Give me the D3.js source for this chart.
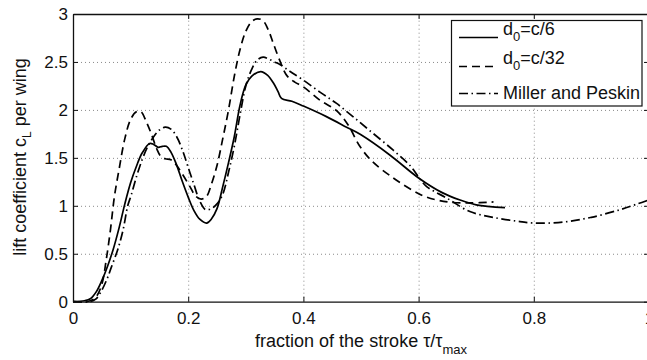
<!DOCTYPE html>
<html><head><meta charset="utf-8">
<script src="https://cdn.jsdelivr.net/npm/d3@7"></script>
<style>
body{margin:0;background:#fff;}
svg{display:block;font-family:"Liberation Sans",Arial,Helvetica,sans-serif;}
</style></head>
<body><svg id="c" width="647" height="360"></svg>
<script>
// ---- data ----
const xTicks = [0, 0.2, 0.4, 0.6, 0.8, 1];
const xTickLabels = ["0", "0.2", "0.4", "0.6", "0.8", "1"];
const yTicks = [0, 0.5, 1, 1.5, 2, 2.5, 3];
const yTickLabels = ["0", "0.5", "1", "1.5", "2", "2.5", "3"];
const seriesNames = ["d0=c/6", "d0=c/32", "Miller and Peskin"];

const xSolid = [0,0.02,0.03,0.04,0.05,0.06,0.07,0.08,0.09,0.10,0.11,0.12,0.133,0.14,0.148,0.155,0.162,0.17,0.179,0.19,0.20,0.21,0.22,0.232,0.24,0.25,0.26,0.27,0.28,0.29,0.30,0.31,0.326,0.338,0.348,0.356,0.362,0.38,0.40,0.44,0.475,0.50,0.55,0.60,0.64,0.672,0.70,0.75];
const ySolid = [0,0.01,0.03,0.1,0.22,0.37,0.55,0.77,1.02,1.24,1.41,1.55,1.65,1.64,1.61,1.62,1.62,1.56,1.44,1.25,1.09,0.95,0.86,0.82,0.86,0.97,1.2,1.45,1.72,2.05,2.26,2.35,2.40,2.36,2.28,2.19,2.12,2.09,2.04,1.93,1.82,1.74,1.53,1.29,1.14,1.06,1.01,0.98];

const xDashed = [0,0.02,0.03,0.04,0.05,0.058,0.065,0.072,0.08,0.09,0.10,0.11,0.118,0.127,0.136,0.145,0.152,0.16,0.17,0.18,0.19,0.203,0.213,0.223,0.232,0.24,0.25,0.26,0.27,0.28,0.29,0.30,0.31,0.32,0.33,0.34,0.348,0.358,0.371,0.385,0.40,0.429,0.458,0.478,0.498,0.52,0.556,0.59,0.614,0.65,0.69,0.73];
const yDashed = [0,0,0.01,0.05,0.18,0.45,0.75,1.1,1.38,1.7,1.9,1.98,1.98,1.88,1.75,1.6,1.52,1.49,1.48,1.42,1.33,1.2,1.1,1.07,1.1,1.22,1.42,1.7,2.0,2.35,2.63,2.82,2.92,2.95,2.93,2.82,2.69,2.53,2.36,2.29,2.24,2.10,1.99,1.84,1.62,1.46,1.29,1.16,1.09,1.04,1.03,1.04];

const xMiller = [0,0.03,0.04,0.05,0.06,0.066,0.078,0.087,0.095,0.101,0.11,0.12,0.13,0.14,0.15,0.16,0.17,0.18,0.19,0.20,0.21,0.22,0.23,0.24,0.25,0.26,0.27,0.28,0.29,0.30,0.31,0.32,0.33,0.34,0.35,0.36,0.377,0.40,0.43,0.457,0.486,0.52,0.556,0.585,0.60,0.614,0.649,0.689,0.729,0.77,0.80,0.85,0.90,0.95,0.98,1.0];
const yMiller = [0,0,0.03,0.12,0.25,0.35,0.55,0.75,1.0,1.11,1.3,1.48,1.62,1.72,1.79,1.82,1.8,1.72,1.58,1.4,1.22,1.05,0.96,0.97,1.02,1.12,1.35,1.62,1.95,2.25,2.42,2.52,2.55,2.53,2.5,2.47,2.4,2.31,2.18,2.07,1.93,1.76,1.58,1.42,1.30,1.2,1.08,0.94,0.88,0.84,0.82,0.83,0.88,0.96,1.02,1.06];

// ---- layout ----
const L = 73, R = 649, T = 14, B = 301.7;
const svg = d3.select("#c");
const x = d3.scaleLinear().domain([0, 1]).range([L, R]);
const y = d3.scaleLinear().domain([0, 3]).range([B, T]);

// grid
svg.append("g").attr("transform", `translate(0,${B})`)
  .call(d3.axisBottom(x).tickValues(xTicks.slice(1, -1)).tickSize(-(B - T)).tickFormat(""))
  .call(g => g.select(".domain").remove())
  .call(g => g.selectAll("line").attr("stroke", "#8a8a8a").attr("stroke-dasharray", "1,3"));
svg.append("g").attr("transform", `translate(${L},0)`)
  .call(d3.axisLeft(y).tickValues(yTicks.slice(1, -1)).tickSize(-(R - L)).tickFormat(""))
  .call(g => g.select(".domain").remove())
  .call(g => g.selectAll("line").attr("stroke", "#8a8a8a").attr("stroke-dasharray", "1,3"));

// series
const styles = [
  {xs: xSolid, ys: ySolid, dash: null},
  {xs: xDashed, ys: yDashed, dash: "8,5"},
  {xs: xMiller, ys: yMiller, dash: "9,3.5,1.5,3.5"}
];
const line = d3.line().x(d => x(d[0])).y(d => y(d[1])).curve(d3.curveCatmullRom.alpha(0.5));
styles.forEach(s => {
  svg.append("path")
    .datum(s.xs.map((v, i) => [v, s.ys[i]]))
    .attr("fill", "none").attr("stroke", "#000").attr("stroke-width", 1.7)
    .attr("stroke-dasharray", s.dash)
    .attr("d", line);
});

// axes
const fontTick = 17;
const axB = svg.append("g").attr("transform", `translate(0,${B})`)
  .call(d3.axisBottom(x).tickValues(xTicks).tickFormat((d, i) => xTickLabels[i]).tickSize(-5).tickSizeOuter(0).tickPadding(10));
const axL = svg.append("g").attr("transform", `translate(${L},0)`)
  .call(d3.axisLeft(y).tickValues(yTicks).tickFormat((d, i) => yTickLabels[i]).tickSize(-5).tickSizeOuter(0).tickPadding(5));
const axT = svg.append("g").attr("transform", `translate(0,${T})`)
  .call(d3.axisTop(x).tickValues(xTicks).tickFormat("").tickSize(-5).tickSizeOuter(0));
const axR = svg.append("g").attr("transform", `translate(${R},0)`)
  .call(d3.axisRight(y).tickValues(yTicks).tickFormat("").tickSize(-5).tickSizeOuter(0));
[axB, axL, axT, axR].forEach(g => {
  g.select(".domain").attr("stroke", "#111").attr("stroke-width", 1.3);
  g.selectAll(".tick line").attr("stroke", "#111");
  g.selectAll("text").attr("font-size", fontTick).attr("fill", "#111")
    .attr("font-family", "'Liberation Sans',Arial,sans-serif");
});

// axis labels
const yl = svg.append("text")
  .attr("transform", `translate(26,157) rotate(-90)`)
  .attr("text-anchor", "middle").attr("font-size", 18).attr("fill", "#111");
yl.append("tspan").text("lift coefficient c");
yl.append("tspan").attr("dy", 5).attr("font-size", 12).text("L");
yl.append("tspan").attr("dy", -5).text(" per wing");

const xl = svg.append("text")
  .attr("x", 361).attr("y", 347)
  .attr("text-anchor", "middle").attr("font-size", 18).attr("fill", "#111");
xl.append("tspan").text("fraction of the stroke τ/τ");
xl.append("tspan").attr("dy", 7).attr("font-size", 13).text("max");

// legend
const lg = svg.append("g");
lg.append("rect").attr("x", 451.5).attr("y", 20.5).attr("width", 190.5).attr("height", 85.5)
  .attr("fill", "#fff").attr("stroke", "#111").attr("stroke-width", 1.2);
const rowsLineY = [37.5, 66.5, 93.5];
const rowsTextY = [34.5, 63.5, 99];
seriesNames.forEach((name, i) => {
  lg.append("line").attr("x1", 459).attr("x2", 498)
    .attr("y1", rowsLineY[i]).attr("y2", rowsLineY[i])
    .attr("stroke", "#000").attr("stroke-width", 1.7)
    .attr("stroke-dasharray", styles[i].dash);
  const t = lg.append("text").attr("x", 503).attr("y", rowsTextY[i])
    .attr("font-size", 18).attr("fill", "#111");
  if (name.startsWith("d0")) {
    t.append("tspan").text("d");
    t.append("tspan").attr("dy", 6).attr("font-size", 13).text("0");
    t.append("tspan").attr("dy", -6).text(name.slice(2));
  } else {
    t.text(name);
  }
});
</script></body></html>
